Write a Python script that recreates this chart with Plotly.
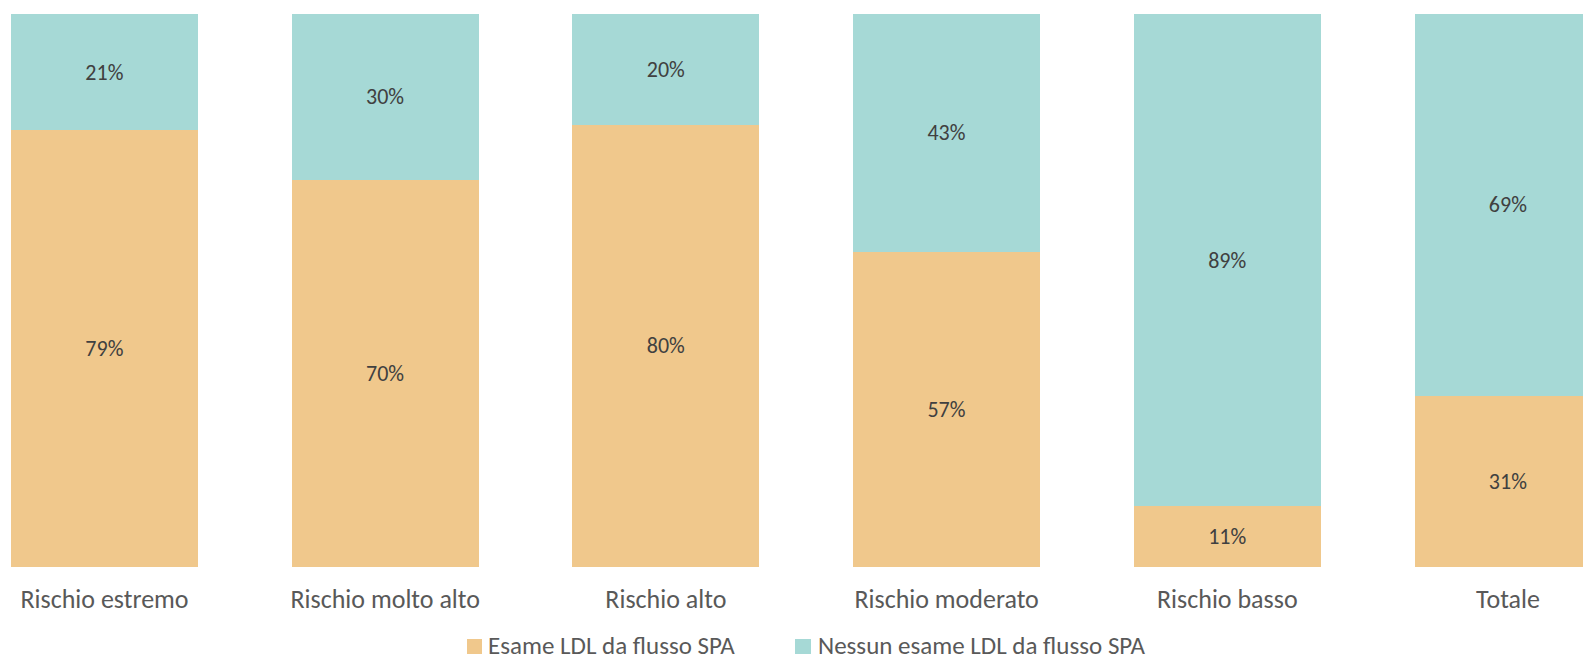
import plotly.graph_objects as go

categories = ["Rischio estremo", "Rischio molto alto", "Rischio alto",
              "Rischio moderato", "Rischio basso", "Totale"]
esame = [79, 70, 80, 57, 11, 31]
nessun = [21, 30, 20, 43, 89, 69]
series_names = ["Esame LDL da flusso SPA", "Nessun esame LDL da flusso SPA"]
colors = ["#F0C88C", "#A6D9D6"]

W, H = 1583, 662
TOP, BOTTOM = 14, 567
FONT = "Calibri, Carlito, Lato, 'Open Sans', sans-serif"

fig = go.Figure()
for name, vals, col in zip(series_names, [esame, nessun], colors):
    fig.add_trace(go.Bar(
        x=categories, y=[v / 100 for v in vals], name=name,
        marker=dict(color=col, line=dict(width=0)),
        text=[f"{v}%" for v in vals], textposition="inside",
        insidetextanchor="middle", textangle=0,
        textfont=dict(family=FONT, size=22, color="#404040"),
        width=0.666, showlegend=False,
    ))

pitch = 280.7
left_center = 104.5
x0 = -left_center / pitch
x1 = x0 + W / pitch


def py(pix):
    return (BOTTOM - pix) / (BOTTOM - TOP)


# custom legend (squares + labels) in paper coordinates
legend_items = [(467, 482, 487), (795, 811, 817)]
for (sx0, sx1, tx), name, col in zip(legend_items, series_names, colors):
    fig.add_shape(type="rect", xref="paper", yref="paper",
                  x0=sx0 / W, x1=sx1 / W, y0=py(654), y1=py(639),
                  fillcolor=col, line=dict(width=0))
    fig.add_annotation(xref="paper", yref="paper", x=tx / W, y=py(645),
                       xanchor="left", yanchor="middle", showarrow=False,
                       borderpad=0,
                       text=name, font=dict(family=FONT, size=25, color="#595959"))

fig.update_layout(
    width=W, height=H, barmode="stack",
    margin=dict(l=0, r=0, t=TOP, b=H - BOTTOM, autoexpand=False),
    paper_bgcolor="white", plot_bgcolor="white",
    font=dict(family=FONT, color="#595959"),
    xaxis=dict(range=[x0, x1], showgrid=False, zeroline=False, showline=False,
               ticks="", tickfont=dict(family=FONT, size=26, color="#595959"),
               ticklabelstandoff=14, automargin=False),
    yaxis=dict(range=[0, 1], visible=False),
    showlegend=False,
    uniformtext=dict(mode=False),
)

fig.write_html("out.html")
